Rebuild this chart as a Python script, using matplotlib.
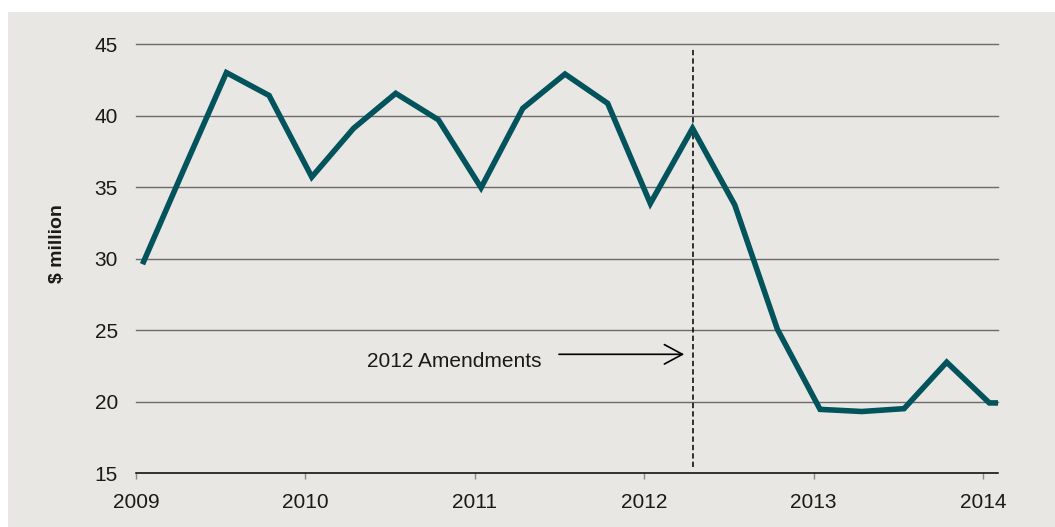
import numpy as np
import pandas as pd
import matplotlib
matplotlib.use('Agg')
import matplotlib.pyplot as plt
import matplotlib.dates as mdates
from matplotlib.patches import Rectangle

# quarterly values ($ million), mid-month of each quarter's first month
dates = ['2009-01-15', '2009-04-15', '2009-07-15', '2009-10-15',
         '2010-01-15', '2010-04-15', '2010-07-15', '2010-10-15',
         '2011-01-15', '2011-04-15', '2011-07-15', '2011-10-15',
         '2012-01-15', '2012-04-15', '2012-07-15', '2012-10-15',
         '2013-01-15', '2013-04-15', '2013-07-15', '2013-10-15',
         '2014-01-15', '2014-02-03']
values = [29.6, 36.3, 43.0, 41.4,
          35.7, 39.1, 41.55, 39.7,
          34.95, 40.5, 42.9, 40.85,
          33.85, 39.1, 33.75, 25.05,
          19.45, 19.3, 19.5, 22.75,
          19.9, 19.9]
y_ticks = [15, 20, 25, 30, 35, 40, 45]
year_ticks = ['2009', '2010', '2011', '2012', '2013', '2014']
amend_date = '2012-04-15'
amend_label = '2012 Amendments'

bg = '#e8e7e3'
teal = '#02535b'

plt.rcParams['font.family'] = ['Liberation Sans', 'DejaVu Sans']

fig = plt.figure(figsize=(10.55, 5.27), dpi=100)
fig.patch.set_facecolor('white')
fig.patches.append(Rectangle((8 / 1055, 0), 1, 1 - 12 / 527, transform=fig.transFigure,
                             facecolor=bg, edgecolor='none', zorder=-10))

ax = fig.add_axes([136 / 1055, 1 - 473 / 527, (997.7 - 136) / 1055, (473 - 44) / 527])
ax.set_facecolor(bg)

x = pd.to_datetime(dates)
for yv in y_ticks[1:]:
    ax.axhline(yv, color='#6a6a6a', lw=1, clip_on=False, zorder=1)

ax.plot(x, values, color=teal, lw=4, solid_joinstyle='miter', solid_capstyle='butt', zorder=3)

xa = mdates.date2num(pd.Timestamp(amend_date))
ax.plot([xa, xa], [15.4, 44.7], color='black', lw=1.1, ls=(0, (3.5, 2)), zorder=2)

ax.annotate('', xy=(mdates.date2num(pd.Timestamp('2012-03-28')), 23.3),
            xytext=(mdates.date2num(pd.Timestamp('2011-07-02')), 23.3),
            arrowprops=dict(arrowstyle='->,head_length=0.65,head_width=0.35',
                            color='black', lw=1.2, mutation_scale=20,
                            shrinkA=0, shrinkB=0))
ax.text(mdates.date2num(pd.Timestamp('2010-11-18')), 22.8, amend_label,
        ha='center', va='center', fontsize=15, color='#1a1a1a')

ax.set_ylim(15, 45)
ax.set_xlim(pd.Timestamp('2009-01-01'), pd.Timestamp('2014-02-02'))
ax.set_yticks(y_ticks)
ax.set_xticks(pd.to_datetime([y + '-01-01' for y in year_ticks]))
ax.set_xticklabels(year_ticks)

for s in ['top', 'right', 'left']:
    ax.spines[s].set_visible(False)
ax.spines['bottom'].set_color('black')
ax.spines['bottom'].set_linewidth(1.1)

ax.tick_params(axis='y', length=0, pad=13, labelsize=15, labelcolor='#1a1a1a')
ax.tick_params(axis='x', length=4.5, width=1, color='#888888', pad=10,
               labelsize=15, labelcolor='#1a1a1a')

fig.text(58 / 1055, 1 - 244 / 527, '$ million', rotation=90, ha='center', va='center',
         fontsize=14, fontweight='bold', color='#1a1a1a')

fig.savefig('out.png', dpi=100, facecolor=fig.get_facecolor())
